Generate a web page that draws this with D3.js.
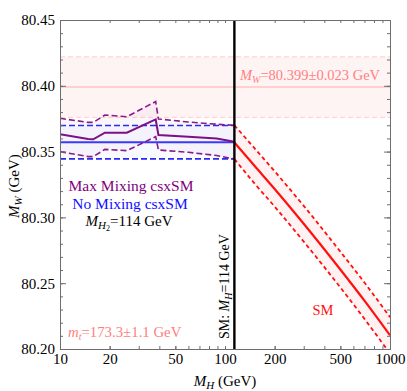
<!DOCTYPE html>
<html><head><meta charset="utf-8">
<script src="https://cdn.jsdelivr.net/npm/d3@7"></script>
<style>body{margin:0;background:#fff}svg{display:block}text{font-family:"Liberation Serif","DejaVu Serif",serif}</style>
</head><body><svg id="c" width="407" height="391"></svg>
<script>
// ---- data ----
const xMajorTicks = [10, 20, 50, 100, 200, 500, 1000];
const xMinorTicks = [10,20,30,40,50,60,70,80,90,100,200,300,400,500,600,700,800,900,1000];
const yMajorTicks = [80.20, 80.25, 80.30, 80.35, 80.40, 80.45];
const yMinorTicks = d3.range(80.20, 80.4501, 0.01);

// Experimental M_W band
const mwExp = 80.399, mwErr = 0.023;

// Max mixing csxSM
const mixMH    = [10, 14.8, 15.9, 18.7, 25.4, 38, 39.5, 60, 89, 114];
const mixMW    = [80.3631, 80.3595, 80.3593, 80.3644, 80.3644, 80.3745, 80.3626, 80.3612, 80.3600, 80.3575];
const mixUpper = [80.3753, 80.3722, 80.3722, 80.3778, 80.3765, 80.3880, 80.3748, 80.3725, 80.3708, 80.3700];
const mixLower = [80.3500, 80.3462, 80.3462, 80.3517, 80.3507, 80.3613, 80.3512, 80.3495, 80.3470, 80.3444];

// No mixing csxSM
const noMixMH    = [10, 114];
const noMixMW    = [80.3571, 80.3571];
const noMixUpper = [80.3698, 80.3698];
const noMixLower = [80.3445, 80.3445];

// SM curve
const smMH    = [114, 150, 200, 300, 500, 700, 1000];
const smMW    = [80.3570, 80.3396, 80.3216, 80.2952, 80.2604, 80.2367, 80.2104];
const smUpper = [80.3700, 80.3530, 80.3350, 80.3088, 80.2740, 80.2505, 80.2242];
const smLower = [80.3444, 80.3262, 80.3082, 80.2816, 80.2468, 80.2229, 80.1966];

const smLineMH = 114;

// ---- layout ----
const L = 60, R = 390, T = 20, B = 349;
const svg = d3.select("#c");
const x = d3.scaleLog().domain([10, 1000]).range([L, R]);
const y = d3.scaleLinear().domain([80.20, 80.45]).range([B, T]);

const defs = svg.append("defs");
defs.append("clipPath").attr("id","clip").append("rect")
  .attr("x", L).attr("y", T).attr("width", R-L).attr("height", B-T);
const g = svg.append("g").attr("clip-path","url(#clip)");

// experimental band
g.append("rect").attr("x", L).attr("width", R-L)
  .attr("y", y(mwExp+mwErr)).attr("height", y(mwExp-mwErr)-y(mwExp+mwErr))
  .attr("fill","#fff4f4");
[mwExp+mwErr, mwExp-mwErr].forEach(v=>{
  g.append("line").attr("x1",L).attr("x2",R).attr("y1",y(v)).attr("y2",y(v))
   .attr("stroke","#ffcccc").attr("stroke-width",1).attr("stroke-dasharray","5,3");
});
g.append("line").attr("x1",L).attr("x2",R).attr("y1",y(mwExp)).attr("y2",y(mwExp))
  .attr("stroke","#ffc4c4").attr("stroke-width",1.5);

function band(xs, lo, hi, fill){
  const a = d3.area().x((d,i)=>x(xs[i])).y0((d,i)=>y(lo[i])).y1((d,i)=>y(hi[i]));
  g.append("path").attr("d", a(xs)).attr("fill", fill);
}
function line(xs, ys, color, w, dash){
  const l = d3.line().x((d,i)=>x(xs[i])).y((d,i)=>y(ys[i]));
  const p = g.append("path").attr("d", l(xs)).attr("fill","none")
    .attr("stroke", color).attr("stroke-width", w);
  if (dash) p.attr("stroke-dasharray", dash);
}
const smCurve = d3.curveMonotoneX;

band(mixMH, mixLower, mixUpper, "rgba(150,60,170,0.045)");
band(noMixMH, noMixLower, noMixUpper, "rgba(80,110,255,0.035)");
// SM band (smooth)
{
  const a = d3.area().curve(smCurve).x((d,i)=>x(smMH[i])).y0((d,i)=>y(smLower[i])).y1((d,i)=>y(smUpper[i]));
  g.append("path").attr("d", a(smMH)).attr("fill","rgba(255,0,0,0.05)");
}

line(noMixMH, noMixUpper, "#2a2af0", 1.6, "6,3");
line(noMixMH, noMixLower, "#2a2af0", 1.6, "6,3");
line(noMixMH, noMixMW, "#3a3aff", 1.8);

line(mixMH, mixUpper, "#8a1a8a", 1.6, "6,3");
line(mixMH, mixLower, "#8a1a8a", 1.6, "6,3");
line(mixMH, mixMW, "#7d0f87", 2);

function smLine(ys, w, dash){
  const l = d3.line().curve(smCurve).x((d,i)=>x(smMH[i])).y((d,i)=>y(ys[i]));
  const p = g.append("path").attr("d", l(smMH)).attr("fill","none")
    .attr("stroke","#ff1010").attr("stroke-width",w);
  if (dash) p.attr("stroke-dasharray", dash);
}
smLine(smUpper, 1.8, "4,3");
smLine(smLower, 1.8, "4,3");
smLine(smMW, 2.2);

// vertical SM line
svg.append("line").attr("x1", x(smLineMH)).attr("x2", x(smLineMH))
  .attr("y1", T).attr("y2", B).attr("stroke","#000").attr("stroke-width",2.4);

// ---- axes / frame ----
const frame = "#6e6e6e";
function styleAxis(sel){
  sel.select(".domain").attr("stroke", frame);
  sel.selectAll(".tick line").attr("stroke", frame);
  sel.selectAll("text").attr("font-family","Liberation Serif").attr("font-size",15).attr("fill","#000");
}
// left
svg.append("g").attr("transform",`translate(${L},0)`)
  .call(d3.axisLeft(y).tickValues(yMinorTicks).tickSize(-3).tickFormat("").tickSizeOuter(0)).call(styleAxis);
svg.append("g").attr("transform",`translate(${L},0)`)
  .call(d3.axisLeft(y).tickValues(yMajorTicks).tickSize(-6).tickPadding(5).tickSizeOuter(0).tickFormat(d3.format(".2f"))).call(styleAxis);
// right
svg.append("g").attr("transform",`translate(${R},0)`)
  .call(d3.axisRight(y).tickValues(yMinorTicks).tickSize(-3).tickFormat("").tickSizeOuter(0)).call(styleAxis);
svg.append("g").attr("transform",`translate(${R},0)`)
  .call(d3.axisRight(y).tickValues(yMajorTicks).tickSize(-6).tickFormat("").tickSizeOuter(0)).call(styleAxis);
// bottom
svg.append("g").attr("transform",`translate(0,${B})`)
  .call(d3.axisBottom(x).tickValues(xMinorTicks).tickSize(-3).tickFormat("").tickSizeOuter(0)).call(styleAxis);
svg.append("g").attr("transform",`translate(0,${B})`)
  .call(d3.axisBottom(x).tickValues(xMajorTicks).tickSize(-3).tickPadding(4).tickSizeOuter(0).tickFormat(d3.format("d"))).call(styleAxis);
// top
svg.append("g").attr("transform",`translate(0,${T})`)
  .call(d3.axisTop(x).tickValues(xMinorTicks).tickSize(-3).tickFormat("").tickSizeOuter(0)).call(styleAxis);

// ---- text ----
function rich(parent, parts, attrs){
  const t = parent.append("text");
  Object.entries(attrs).forEach(([k,v])=>t.attr(k,v));
  parts.forEach(p=>{
    const s = t.append("tspan").text(p.t);
    if (p.i) s.attr("font-style","italic");
    if (p.fs) s.attr("font-size", p.fs);
    if (p.dy) s.attr("dy", p.dy);
  });
  return t;
}
// axis titles
rich(svg, [{t:"M",i:1},{t:"W",i:1,fs:11,dy:3},{t:" (GeV)",dy:-3}],
  {transform:"translate(19,186) rotate(-90)","text-anchor":"middle","font-size":15,fill:"#000"});
rich(svg, [{t:"M",i:1},{t:"H",i:1,fs:11,dy:3},{t:" (GeV)",dy:-3}],
  {x:225,y:386,"text-anchor":"middle","font-size":15,fill:"#000"});

// MW measurement label
rich(svg, [{t:"M",i:1},{t:"W",i:1,fs:10,dy:3},{t:"=80.399±0.023 GeV",dy:-3}],
  {x:240,y:80,"font-size":14.5,fill:"#ff8080"});

// legend texts
svg.append("text").attr("x",131).attr("y",191).attr("text-anchor","middle")
  .attr("font-size",15.5).attr("fill","#800080").text("Max Mixing csxSM");
svg.append("text").attr("x",130).attr("y",209).attr("text-anchor","middle")
  .attr("font-size",15.5).attr("fill","#1010ff").text("No Mixing csxSM");
rich(svg, [{t:"M",i:1},{t:"H",i:1,fs:11,dy:3},{t:"2",fs:8,dy:2},{t:"=114 GeV",dy:-5}],
  {x:129,y:226,"text-anchor":"middle","font-size":15,fill:"#000"});

// top mass
rich(svg, [{t:"m",i:1},{t:"t",i:1,fs:10,dy:3},{t:"=173.3±1.1 GeV",dy:-3}],
  {x:68,y:337,"font-size":14.8,fill:"#ff8080"});

// vertical SM label
rich(svg, [{t:"SM: "},{t:"M",i:1},{t:"H",i:1,fs:10,dy:3},{t:"=114 GeV",dy:-3}],
  {transform:`translate(${x(smLineMH)-5},339) rotate(-90)`,"font-size":14,fill:"#000"});

svg.append("text").attr("x",323).attr("y",315).attr("text-anchor","middle")
  .attr("font-size",14.5).attr("fill","#ff1010").text("SM");
</script></body></html>
